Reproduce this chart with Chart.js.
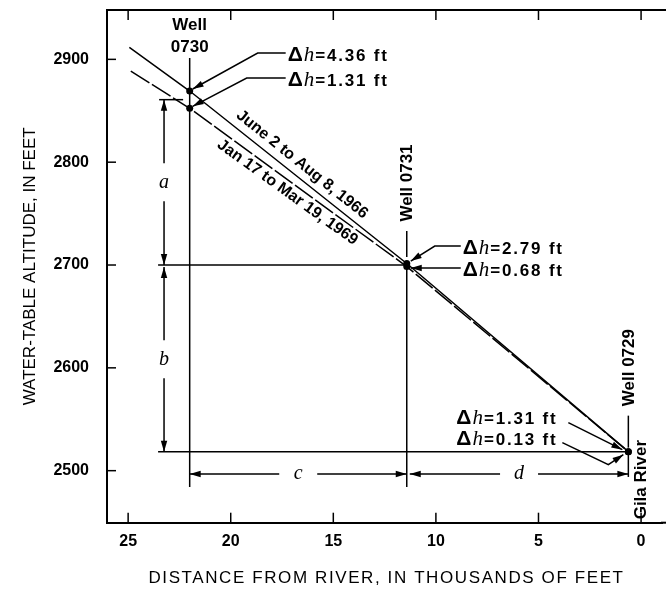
<!DOCTYPE html>
<html>
<head>
<meta charset="utf-8">
<script src="https://cdn.jsdelivr.net/npm/chart.js@4"></script>
<style>
  body { margin: 0; background: #fff; }
</style>
</head>
<body>
<canvas id="profileChart" width="666" height="593"></canvas>
<script>
// distance from river in thousands of feet, water-table altitude in feet
const wellNames = ["0730", "0731", "0729"];
const wellDistance = [22.0, 11.42, 0.62];
const june1966Altitude = [2869.2, 2701.5, 2518.5];
const jan1969Altitude = [2852.4, 2698.5, 2518.5];
// where each profile starts at the left
const june1966Start = [24.94, 2911.7];
const jan1969Start = [24.87, 2888.6];
const dhJune1966 = [4.36, 2.79, 1.31];
const dhJan1969 = [1.31, 0.68, 0.13];
const xTicks = [25, 20, 15, 10, 5, 0];
const yTicks = [2500, 2600, 2700, 2800, 2900];

const SANS = '"Liberation Sans", Arial, sans-serif';
const SERIF = '"Liberation Serif", "DejaVu Serif", serif';

function toPoints(start, altitudes) {
    const pts = [{ x: start[0], y: start[1] }];
    wellDistance.forEach((d, i) => pts.push({ x: d, y: altitudes[i] }));
    return pts;
}

function line(ctx, x1, y1, x2, y2, width) {
    ctx.lineWidth = width || 1.5;
    ctx.beginPath();
    ctx.moveTo(x1, y1);
    ctx.lineTo(x2, y2);
    ctx.stroke();
}

function arrowHead(ctx, fx, fy, tx, ty) {
    const a = Math.atan2(ty - fy, tx - fx);
    const len = 11, half = 3.2;
    ctx.beginPath();
    ctx.moveTo(tx, ty);
    ctx.lineTo(tx - len * Math.cos(a) + half * Math.sin(a), ty - len * Math.sin(a) - half * Math.cos(a));
    ctx.lineTo(tx - len * Math.cos(a) - half * Math.sin(a), ty - len * Math.sin(a) + half * Math.cos(a));
    ctx.closePath();
    ctx.fill();
}

// leader: list of points, arrow at the last one
function leader(ctx, pts) {
    ctx.lineWidth = 1.5;
    ctx.beginPath();
    ctx.moveTo(pts[0][0], pts[0][1]);
    for (let i = 1; i < pts.length; i++) ctx.lineTo(pts[i][0], pts[i][1]);
    ctx.stroke();
    const n = pts.length;
    arrowHead(ctx, pts[n - 2][0], pts[n - 2][1], pts[n - 1][0], pts[n - 1][1]);
}

// dimension arrow with a gap for an italic letter in the middle
function dimension(ctx, x1, y1, x2, y2, letter) {
    const mx = (x1 + x2) / 2, my = (y1 + y2) / 2;
    const len = Math.hypot(x2 - x1, y2 - y1);
    const ux = (x2 - x1) / len, uy = (y2 - y1) / len;
    const gap = 19;
    line(ctx, x1, y1, mx - ux * gap, my - uy * gap);
    line(ctx, mx + ux * gap, my + uy * gap, x2, y2);
    arrowHead(ctx, mx, my, x1, y1);
    arrowHead(ctx, mx, my, x2, y2);
    ctx.font = "italic 20px " + SERIF;
    ctx.textAlign = "center";
    ctx.textBaseline = "middle";
    ctx.fillText(letter, mx, my);
}

function dhLabel(ctx, x, y, value) {
    ctx.textAlign = "left";
    ctx.textBaseline = "middle";
    ctx.font = "bold 21px " + SANS;
    ctx.fillText("\u0394", x, y);
    x += ctx.measureText("\u0394").width + 1;
    ctx.font = "italic 21px " + SERIF;
    ctx.fillText("h", x, y);
    x += ctx.measureText("h").width + 1;
    ctx.font = "bold 17px " + SANS;
    ctx.letterSpacing = "1.8px";
    ctx.fillText("=" + value.toFixed(2) + " ft", x, y + 1);
    ctx.letterSpacing = "0px";
}

function rotatedText(ctx, text, x, y, angle, font) {
    ctx.save();
    ctx.translate(x, y);
    ctx.rotate(angle);
    ctx.font = font;
    ctx.textAlign = "center";
    ctx.textBaseline = "middle";
    ctx.fillText(text, 0, 0);
    ctx.restore();
}

const notesPlugin = {
    id: "profileNotes",
    afterDraw(chart) {
        const ctx = chart.ctx;
        const area = chart.chartArea;
        const px = v => chart.scales.x.getPixelForValue(v);
        const py = v => chart.scales.y.getPixelForValue(v);
        ctx.save();
        ctx.strokeStyle = "#000";
        ctx.fillStyle = "#000";

        // frame runs off the right edge of the figure; inward ticks
        line(ctx, area.left, area.top, chart.width, area.top, 2);
        line(ctx, area.right - 1, area.bottom, chart.width, area.bottom, 2);
        xTicks.forEach(v => {
            line(ctx, px(v), area.bottom, px(v), area.bottom - 10, 1.5);
            line(ctx, px(v), area.top, px(v), area.top + 10, 1.5);
        });
        yTicks.forEach(v => line(ctx, area.left, py(v), area.left + 9, py(v), 1.5));

        const up = { x: px(wellDistance[0]), y: py(june1966Altitude[0]) };
        const lo = { x: px(wellDistance[0]), y: py(jan1969Altitude[0]) };
        const mid = { x: px(wellDistance[1]), y: py(2700) };
        const river = { x: px(wellDistance[2]), y: py(june1966Altitude[2]) };
        const dimX = px(23.25);
        const dimY = py(2496.8);
        const refLeft = px(23.54);
        const lowEnd = py(2484);

        // reference lines
        line(ctx, up.x, area.top + 48, up.x, lowEnd);
        line(ctx, mid.x, mid.y, mid.x, lowEnd);
        line(ctx, mid.x, mid.y - 34, mid.x, mid.y - 8);
        line(ctx, river.x, river.y, river.x, dimY + 3);
        line(ctx, river.x, river.y - 36, river.x, river.y - 4);
        line(ctx, refLeft, mid.y, mid.x, mid.y);
        line(ctx, refLeft, river.y, river.x, river.y);
        const aTop = py((june1966Altitude[0] + jan1969Altitude[0]) / 2);
        line(ctx, px(23.49), aTop, px(22.32), aTop);

        dimension(ctx, dimX, aTop, dimX, mid.y, "a");
        dimension(ctx, dimX, mid.y + 2, dimX, river.y, "b");
        dimension(ctx, up.x, dimY, mid.x, dimY, "c");
        dimension(ctx, mid.x + 3, dimY, river.x, dimY, "d");

        // well labels
        ctx.font = "bold 17px " + SANS;
        ctx.textAlign = "center";
        ctx.textBaseline = "middle";
        ctx.fillText("Well", up.x, area.top + 15);
        ctx.fillText(wellNames[0], up.x, area.top + 37);
        rotatedText(ctx, "Well " + wellNames[1], mid.x + 1, mid.y - 82, -Math.PI / 2, "bold 17px " + SANS);
        rotatedText(ctx, "Well " + wellNames[2], river.x + 1, river.y - 84, -Math.PI / 2, "bold 17px " + SANS);
        rotatedText(ctx, "Gila River", river.x + 13, river.y + 28, -Math.PI / 2, "bold 17px " + SANS);

        // profile labels along the lines
        const angU = Math.atan2(mid.y - up.y, mid.x - up.x);
        const angL = Math.atan2(mid.y - lo.y, mid.x - lo.x);
        const tU = 0.48, tL = 0.48;
        const cu = { x: up.x + (mid.x - up.x) * tU, y: up.y + (mid.y - up.y) * tU };
        const cl = { x: lo.x + (mid.x - lo.x) * tL, y: lo.y + (mid.y - lo.y) * tL };
        rotatedText(ctx, "June 2 to Aug 8, 1966", cu.x + 13 * Math.sin(angU), cu.y - 13 * Math.cos(angU), angU, "bold 16px " + SANS);
        rotatedText(ctx, "Jan 17 to Mar 19, 1969", cl.x - 11 * Math.sin(angL), cl.y + 11 * Math.cos(angL), angL, "bold 16px " + SANS);

        // delta h notes
        dhLabel(ctx, up.x + 98, up.y - 36, dhJune1966[0]);
        dhLabel(ctx, up.x + 98, up.y - 11, dhJan1969[0]);
        leader(ctx, [[up.x + 96, up.y - 38], [up.x + 68, up.y - 38], [up.x + 3, up.y - 2]]);
        leader(ctx, [[up.x + 96, up.y - 13], [up.x + 57, up.y - 13], [lo.x + 3, lo.y - 2]]);

        dhLabel(ctx, mid.x + 56, mid.y - 17, dhJune1966[1]);
        dhLabel(ctx, mid.x + 56, mid.y + 5, dhJan1969[1]);
        leader(ctx, [[mid.x + 54, mid.y - 19], [mid.x + 28, mid.y - 19], [mid.x + 4, mid.y - 4]]);
        leader(ctx, [[mid.x + 54, mid.y + 3], [mid.x + 4, mid.y + 3]]);

        dhLabel(ctx, river.x - 172, river.y - 33, dhJune1966[2]);
        dhLabel(ctx, river.x - 172, river.y - 12, dhJan1969[2]);
        leader(ctx, [[river.x - 60, river.y - 29], [river.x - 6, river.y - 2]]);
        leader(ctx, [[river.x - 66, river.y - 9], [river.x - 20, river.y + 13], [river.x - 5, river.y + 3]]);

        // x axis title
        ctx.font = "17px " + SANS;
        ctx.letterSpacing = "1.6px";
        ctx.textAlign = "center";
        ctx.textBaseline = "middle";
        ctx.fillText("DISTANCE FROM RIVER, IN THOUSANDS OF FEET", (area.left + chart.width) / 2, 578);
        ctx.restore();
    }
};

const ctx = document.getElementById("profileChart").getContext("2d");
new Chart(ctx, {
    type: "scatter",
    data: {
        datasets: [{
            label: "June 2 to Aug 8, 1966",
            data: toPoints(june1966Start, june1966Altitude),
            showLine: true,
            borderColor: "#000",
            borderWidth: 1.5,
            backgroundColor: "#000",
            pointRadius: [0, 3.5, 3.5, 3.5],
            pointBorderWidth: 0
        }, {
            label: "Jan 17 to Mar 19, 1969",
            data: toPoints(jan1969Start, jan1969Altitude),
            showLine: true,
            borderColor: "#000",
            borderWidth: 1.5,
            borderDash: [22, 3],
            backgroundColor: "#000",
            pointRadius: [0, 3.5, 3.5, 3.5],
            pointBorderWidth: 0
        }]
    },
    options: {
        responsive: false,
        animation: false,
        layout: { padding: { top: 10, right: 0, bottom: 0, left: 0 } },
        plugins: { legend: { display: false }, tooltip: { enabled: false } },
        scales: {
            x: {
                type: "linear",
                reverse: true,
                min: -1.02,
                max: 26.03,
                afterBuildTicks: s => { s.ticks = xTicks.map(v => ({ value: v })); },
                afterFit: s => { s.height = 70.3; s.paddingLeft = 0; s.paddingRight = 0; },
                ticks: { padding: 1, color: "#000", maxRotation: 0, callback: v => String(v), font: { family: SANS, size: 16, weight: "bold" } },
                grid: { display: false },
                border: { display: true, color: "#000", width: 2 }
            },
            y: {
                min: 2449.4,
                max: 2948,
                afterBuildTicks: s => { s.ticks = yTicks.map(v => ({ value: v })); },
                afterFit: s => { s.width = 107; s.paddingTop = 0; s.paddingBottom = 0; },
                ticks: { padding: 10, color: "#000", callback: v => String(v), font: { family: SANS, size: 16, weight: "bold" } },
                grid: { display: false },
                border: { display: true, color: "#000", width: 2 },
                title: {
                    display: true,
                    text: "WATER-TABLE ALTITUDE, IN FEET",
                    color: "#000",
                    font: { family: SANS, size: 17 },
                    padding: { top: 20, bottom: 0 }
                }
            }
        }
    },
    plugins: [notesPlugin]
});
</script>
</body>
</html>
